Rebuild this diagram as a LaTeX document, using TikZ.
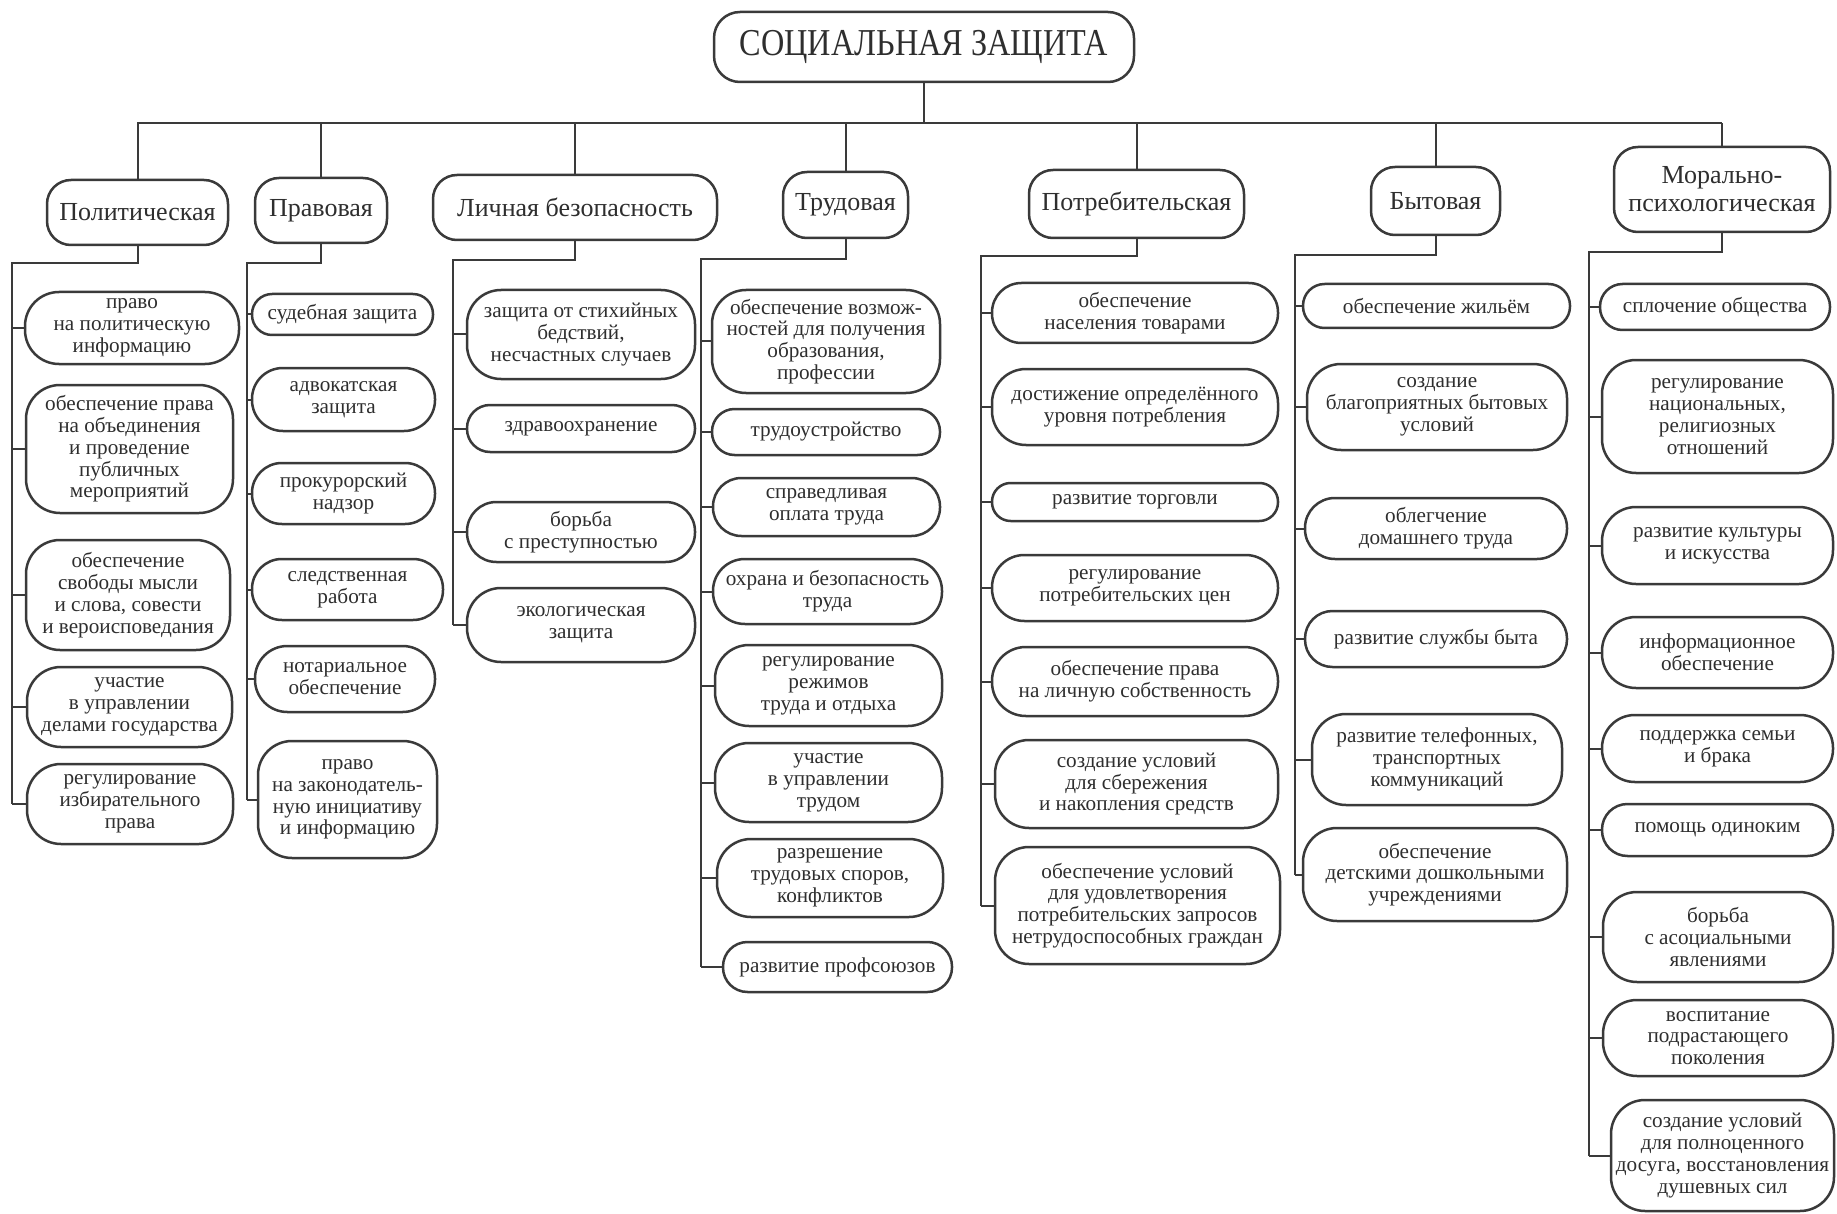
\documentclass[tikz,border=0pt]{standalone}
\usepackage{fontspec}
\setmainfont{Liberation Serif}
\newfontfamily\ttlfont[FakeStretch=0.85]{Liberation Serif}
\definecolor{ink}{HTML}{3A3A3A}
\definecolor{txt}{HTML}{2E2E2E}
\tikzset{
  ln/.style={draw=ink, line width=1pt},
  boxbase/.style={draw=ink, line width=1.25pt, fill=white, inner sep=0pt, align=center, text=txt},
  itm/.style={boxbase, font=\fontsize{10.6}{10.9}\selectfont},
  cat/.style={boxbase, font=\fontsize{13}{14}\selectfont},
  ttl/.style={boxbase, font=\ttlfont\fontsize{19}{20}\selectfont},
}
\newcommand\mybox[8]{%
  \pgfmathsetmacro\mbw{(#4-#2)*0.5}%
  \pgfmathsetmacro\mbh{(#5-#3)*0.5}%
  \pgfmathsetmacro\mbr{min(\mbh*0.49,#7)}%
  \node[#6, minimum width=\mbw pt, minimum height=\mbh pt, rounded corners=\mbr pt] (#1) at ({(#2+#4)/2},{(#3+#5)/2}) {#8};}
\begin{document}
\begin{tikzpicture}[x=0.5pt,y=-0.5pt]
\fill[white] (0,0) rectangle (1837,1214);
\useasboundingbox (0,0) rectangle (1837,1214);

% title
\mybox{title}{714}{12}{1134}{82}{ttl}{13}{СОЦИАЛЬНАЯ ЗАЩИТА}

% categories
\mybox{polC}{47}{180}{228}{245}{cat}{12}{Политическая}
\mybox{praC}{255}{178}{387}{243}{cat}{12}{Правовая}
\mybox{licC}{433}{175}{717}{240}{cat}{12}{Личная безопасность}
\mybox{truC}{783}{172}{908}{238}{cat}{12}{Трудовая}
\mybox{potC}{1029}{170}{1244}{238}{cat}{12}{Потребительская}
\mybox{bytC}{1371}{167}{1500}{235}{cat}{12}{Бытовая}
\mybox{morC}{1614}{147}{1830}{232}{cat}{12}{Морально-\\психологическая}

% Политическая
\mybox{pol1}{25}{292}{239}{364}{itm}{17}{право\\на политическую\\информацию}
\mybox{pol2}{26}{385}{233}{513}{itm}{17}{обеспечение права\\на объединения\\и проведение\\публичных\\мероприятий}
\mybox{pol3}{26}{540}{230}{650}{itm}{17}{обеспечение\\свободы мысли\\и слова, совести\\и вероисповедания}
\mybox{pol4}{27}{667}{232}{747}{itm}{17}{участие\\в управлении\\делами государства}
\mybox{pol5}{27}{764}{233}{844}{itm}{17}{регулирование\\избирательного\\права}

% Правовая
\mybox{pra1}{252}{294}{433}{335}{itm}{17}{судебная защита}
\mybox{pra2}{252}{368}{435}{431}{itm}{17}{адвокатская\\защита}
\mybox{pra3}{252}{463}{435}{524}{itm}{17}{прокурорский\\надзор}
\mybox{pra4}{252}{559}{443}{620}{itm}{17}{следственная\\работа}
\mybox{pra5}{255}{646}{435}{712}{itm}{17}{нотариальное\\обеспечение}
\mybox{pra6}{258}{741}{437}{858}{itm}{17}{право\\на законодатель-\\ную инициативу\\и информацию}

% Личная безопасность
\mybox{lic1}{467}{290}{695}{379}{itm}{17}{защита от стихийных\\бедствий,\\несчастных случаев}
\mybox{lic2}{467}{405}{695}{452}{itm}{17}{здравоохранение}
\mybox{lic3}{467}{502}{695}{562}{itm}{17}{борьба\\с преступностью}
\mybox{lic4}{467}{588}{695}{662}{itm}{17}{экологическая\\защита}

% Трудовая
\mybox{tru1}{712}{290}{940}{393}{itm}{17}{обеспечение возмож-\\ностей для получения\\образования,\\профессии}
\mybox{tru2}{712}{409}{940}{455}{itm}{17}{трудоустройство}
\mybox{tru3}{713}{478}{940}{536}{itm}{17}{справедливая\\оплата труда}
\mybox{tru4}{713}{559}{942}{624}{itm}{17}{охрана и безопасность\\труда}
\mybox{tru5}{715}{645}{942}{726}{itm}{17}{регулирование\\режимов\\труда и отдыха}
\mybox{tru6}{715}{743}{942}{822}{itm}{17}{участие\\в управлении\\трудом}
\mybox{tru7}{717}{839}{943}{917}{itm}{17}{разрешение\\трудовых споров,\\конфликтов}
\mybox{tru8}{723}{942}{952}{992}{itm}{17}{развитие профсоюзов}

% Потребительская
\mybox{pot1}{992}{283}{1278}{343}{itm}{17}{обеспечение\\населения товарами}
\mybox{pot2}{992}{369}{1278}{445}{itm}{17}{достижение определённого\\уровня потребления}
\mybox{pot3}{992}{483}{1278}{521}{itm}{17}{развитие торговли}
\mybox{pot4}{992}{555}{1278}{621}{itm}{17}{регулирование\\потребительских цен}
\mybox{pot5}{992}{647}{1278}{716}{itm}{17}{обеспечение права\\на личную собственность}
\mybox{pot6}{995}{740}{1278}{828}{itm}{17}{создание условий\\для сбережения\\и накопления средств}
\mybox{pot7}{995}{847}{1280}{964}{itm}{17}{обеспечение условий\\для удовлетворения\\потребительских запросов\\нетрудоспособных граждан}

% Бытовая
\mybox{byt1}{1303}{284}{1570}{328}{itm}{17}{обеспечение жильём}
\mybox{byt2}{1307}{364}{1567}{450}{itm}{17}{создание\\благоприятных бытовых\\условий}
\mybox{byt3}{1305}{498}{1567}{559}{itm}{17}{облегчение\\домашнего труда}
\mybox{byt4}{1305}{611}{1567}{667}{itm}{17}{развитие службы быта}
\mybox{byt5}{1312}{714}{1562}{805}{itm}{17}{развитие телефонных,\\транспортных\\коммуникаций}
\mybox{byt6}{1303}{828}{1567}{921}{itm}{17}{обеспечение\\детскими дошкольными\\учреждениями}

% Морально-психологическая
\mybox{mor1}{1600}{284}{1830}{330}{itm}{17}{сплочение общества}
\mybox{mor2}{1602}{360}{1833}{473}{itm}{17}{регулирование\\национальных,\\религиозных\\отношений}
\mybox{mor3}{1602}{507}{1833}{584}{itm}{17}{развитие культуры\\и искусства}
\mybox{mor4}{1602}{617}{1833}{688}{itm}{17}{информационное\\обеспечение}
\mybox{mor5}{1602}{715}{1833}{782}{itm}{17}{поддержка семьи\\и брака}
\mybox{mor6}{1602}{804}{1833}{856}{itm}{17}{помощь одиноким}
\mybox{mor7}{1603}{892}{1833}{982}{itm}{17}{борьба\\с асоциальными\\явлениями}
\mybox{mor8}{1603}{1000}{1833}{1076}{itm}{17}{воспитание\\подрастающего\\поколения}
\mybox{mor9}{1611}{1100}{1834}{1211}{itm}{17}{создание условий\\для полноценного\\досуга, восстановления\\душевных сил}

% main bus
\coordinate (busL) at (137,123);
\coordinate (busR) at (1722,123);
\draw[ln] (title.south) -- (title.south |- busL);
\draw[ln] (busL) -- (busR);
\foreach \cl in {polC,praC,licC,truC,potC,bytC,morC}
  \draw[ln] (\cl.north) -- (\cl.north |- busL);

% spines
\coordinate (polS) at (12,263);
\coordinate (praS) at (247,263);
\coordinate (licS) at (453,260);
\coordinate (truS) at (701,259);
\coordinate (potS) at (981,256);
\coordinate (bytS) at (1295,255);
\coordinate (morS) at (1589,252);

\foreach \cl/\kk in {pol/5,pra/6,lic/4,tru/8,pot/7,byt/6,mor/9}{
  \draw[ln] (\cl C.south) |- (\cl S) -- (\cl S |- \cl\kk.west);
  \foreach \ii in {1,...,\kk}
    \draw[ln] (\cl\ii.west) -- (\cl S |- \cl\ii.west);
}
\end{tikzpicture}
\end{document}
